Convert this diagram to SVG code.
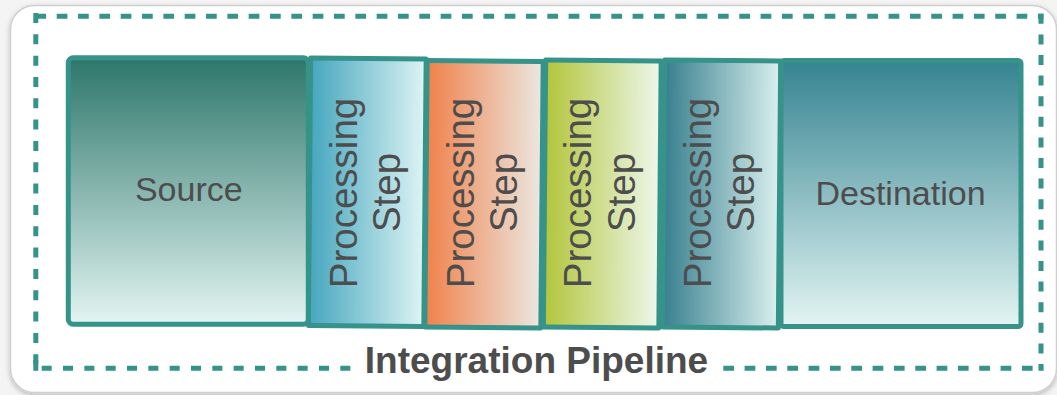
<svg xmlns="http://www.w3.org/2000/svg" width="1057" height="395" viewBox="0 0 1057 395">
  <defs>
    <linearGradient id="gSource" x1="0" y1="0" x2="0" y2="1">
      <stop offset="0" stop-color="#2d766b"/>
      <stop offset="1" stop-color="#e3f5f2"/>
    </linearGradient>
    <linearGradient id="gDest" x1="0" y1="0" x2="0" y2="1">
      <stop offset="0" stop-color="#358391"/>
      <stop offset="1" stop-color="#e3f5f3"/>
    </linearGradient>
    <linearGradient id="gStep1" x1="0" y1="0" x2="1" y2="0">
      <stop offset="0" stop-color="#45a6be"/>
      <stop offset="1" stop-color="#def4f4"/>
    </linearGradient>
    <linearGradient id="gStep2" x1="0" y1="0" x2="1" y2="0">
      <stop offset="0" stop-color="#f0814a"/>
      <stop offset="1" stop-color="#ebe8e2"/>
    </linearGradient>
    <linearGradient id="gStep3" x1="0" y1="0" x2="1" y2="0">
      <stop offset="0" stop-color="#b2c53a"/>
      <stop offset="1" stop-color="#eef7ec"/>
    </linearGradient>
    <linearGradient id="gStep4" x1="0" y1="0" x2="1" y2="0">
      <stop offset="0" stop-color="#387f8f"/>
      <stop offset="1" stop-color="#daf0ee"/>
    </linearGradient>
    <filter id="shadow" x="-5%" y="-5%" width="110%" height="115%">
      <feDropShadow dx="0" dy="2" stdDeviation="2.5" flood-color="#000" flood-opacity="0.25"/>
    </filter>
  </defs>
  <style>
    .box { stroke: #35938a; stroke-width: 5; stroke-linejoin: round; }
    .lbl { font-family: "Liberation Sans", Arial, sans-serif; fill: #4d4d4d; }
    .big { font-size: 34px; text-anchor: middle; }
    .step { font-size: 38.5px; text-anchor: middle; }
    .title { font-size: 37px; font-weight: bold; text-anchor: middle; }
    .dash { stroke: #35938a; stroke-width: 5; fill: none; stroke-linecap: butt; }
  </style>

  <rect x="0" y="0" width="1057" height="395" fill="#f4f4f4"/>

  <g id="pipeline">
    <rect x="10.5" y="5.5" width="1046" height="387" rx="24" fill="#ffffff" stroke="#cfcfcf" stroke-width="1.5" filter="url(#shadow)"/>
    <line class="dash" x1="35.4" y1="16.3" x2="1043.5" y2="16.3" stroke-dasharray="10.7 10.63"/>
    <line class="dash" x1="35.8" y1="12.97" x2="35.8" y2="370.8" stroke-dasharray="10 11.33"/>
    <line class="dash" x1="35.8" y1="360" x2="35.8" y2="370.8"/>
    <line class="dash" x1="1041" y1="13.8" x2="1041" y2="370.8" stroke-dasharray="10 10.6"/>
    <line class="dash" x1="41.7" y1="368.3" x2="352" y2="368.3" stroke-dasharray="10 11.33"/>
    <line class="dash" x1="723.3" y1="368.3" x2="1043.5" y2="368.3" stroke-dasharray="10.7 10.63"/>
    <text class="lbl title" x="536.5" y="372.7">Integration Pipeline</text>
  </g>

  <g id="node-source">
    <rect class="box" x="68.3" y="57.8" width="240" height="266.5" rx="5" fill="url(#gSource)"/>
    <text class="lbl big" x="188.8" y="200.7">Source</text>
  </g>

  <g id="node-step1">
    <rect class="box" x="309.5" y="58.5" width="115.5" height="267.5" fill="url(#gStep1)" transform="rotate(0.5 367.25 192.25)"/>
    <text class="lbl step" transform="translate(357 193) rotate(-90)">Processing</text>
    <text class="lbl step" transform="translate(400 192.5) rotate(-90)">Step</text>
  </g>

  <g id="node-step2">
    <rect class="box" x="426" y="61" width="116" height="266.5" fill="url(#gStep2)" transform="rotate(0.5 484 194.25)"/>
    <text class="lbl step" transform="translate(474 193) rotate(-90)">Processing</text>
    <text class="lbl step" transform="translate(517 192.5) rotate(-90)">Step</text>
  </g>

  <g id="node-step3">
    <rect class="box" x="544.5" y="60.5" width="115.5" height="267" fill="url(#gStep3)" transform="rotate(0.5 602.25 194)"/>
    <text class="lbl step" transform="translate(591 193) rotate(-90)">Processing</text>
    <text class="lbl step" transform="translate(635 192.5) rotate(-90)">Step</text>
  </g>

  <g id="node-step4">
    <rect class="box" x="663.5" y="60.5" width="116" height="267" fill="url(#gStep4)" transform="rotate(0.5 721.5 194)"/>
    <text class="lbl step" transform="translate(711 193) rotate(-90)">Processing</text>
    <text class="lbl step" transform="translate(754 192.5) rotate(-90)">Step</text>
  </g>

  <g id="node-destination">
    <rect class="box" x="781" y="60.5" width="240" height="266" rx="3" fill="url(#gDest)"/>
    <text class="lbl big" x="900.5" y="205">Destination</text>
  </g>

  <g id="connectors"/>
</svg>
